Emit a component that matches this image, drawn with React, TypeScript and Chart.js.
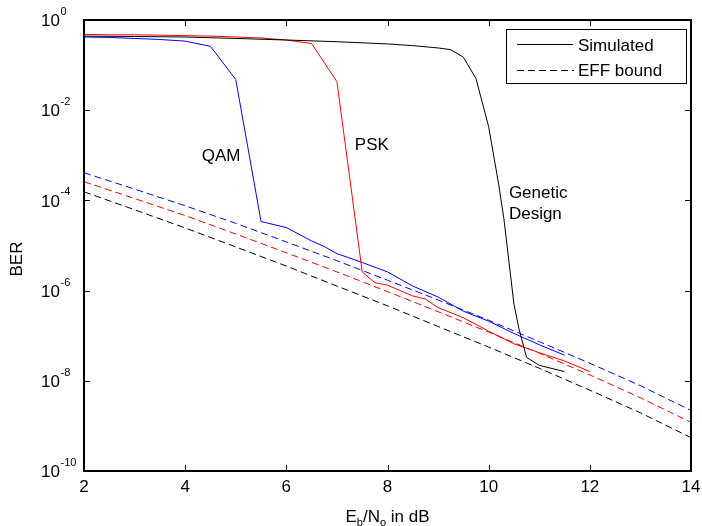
import React, { useEffect, useRef } from "react";
import { Chart, registerables } from "chart.js";

Chart.register(...registerables);

// Simulated curves (Eb/No in dB, BER)
const qamX = [2, 2.5, 3, 3.5, 4, 4.5, 5, 5.5, 6, 6.5, 6.75, 7, 7.5, 8, 8.5, 9, 9.5, 10, 10.5, 11, 11.5];
const qamBER = [4.2e-1, 4.1e-1, 3.9e-1, 3.7e-1, 3.4e-1, 2.6e-1, 4.8e-2, 3.4e-5, 2.5e-5, 1.26e-5, 9.5e-6, 6.6e-6, 4.2e-6, 2.6e-6, 1.26e-6, 7.2e-7, 3.5e-7, 2.1e-7, 1.12e-7, 6.3e-8, 3.7e-8];

const pskX = [2, 2.5, 3, 3.5, 4, 4.5, 5, 5.5, 6, 6.5, 7, 7.5, 7.75, 8, 8.5, 8.75, 9, 9.5, 10, 10.5, 11, 11.5, 12];
const pskBER = [4.8e-1, 4.7e-1, 4.7e-1, 4.6e-1, 4.5e-1, 4.4e-1, 4.2e-1, 4.0e-1, 3.6e-1, 3.0e-1, 4.3e-2, 2.6e-6, 1.5e-6, 1.32e-6, 7.6e-7, 6.5e-7, 4.2e-7, 2.5e-7, 1.26e-7, 6.6e-8, 4.2e-8, 2.75e-8, 1.6e-8];

const geneticX = [2, 3, 4, 5, 6, 7, 8, 8.5, 9, 9.25, 9.5, 9.75, 10, 10.2, 10.3, 10.5, 10.6, 10.75, 11, 11.5];
const geneticBER = [4.4e-1, 4.3e-1, 4.2e-1, 3.9e-1, 3.6e-1, 3.3e-1, 2.95e-1, 2.7e-1, 2.4e-1, 2.2e-1, 1.5e-1, 5.0e-2, 4.3e-3, 2.2e-4, 4.0e-5, 5.0e-7, 1.4e-7, 3.3e-8, 2.2e-8, 1.6e-8];

// EFF bounds
const effX = [2, 3, 4, 5, 6, 7, 8, 9, 10, 11, 12, 13, 14];
const effQAM = [4.1e-4, 1.78e-4, 7.6e-5, 3.1e-5, 1.2e-5, 4.6e-6, 1.7e-6, 6.2e-7, 2.2e-7, 7.4e-8, 2.45e-8, 7.8e-9, 2.2e-9];
const effPSK = [2.6e-4, 1.1e-4, 4.6e-5, 1.8e-5, 6.9e-6, 2.6e-6, 9.5e-7, 3.4e-7, 1.2e-7, 4.1e-8, 1.35e-8, 4.2e-9, 1.2e-9];
const effGenetic = [1.55e-4, 6.2e-5, 2.45e-5, 9.3e-6, 3.5e-6, 1.26e-6, 4.6e-7, 1.6e-7, 5.6e-8, 1.9e-8, 6.2e-9, 1.95e-9, 5.5e-10];

const xTicks = [2, 4, 6, 8, 10, 12, 14];
const yTickExponents = [0, -2, -4, -6, -8, -10];
const legendLabels = ["Simulated", "EFF bound"];
const yTitle = "BER";

const FONT = '"Liberation Sans", Arial, Helvetica, sans-serif';

function pts(xs: number[], ys: number[]) {
  return xs.map((x, i) => ({ x, y: ys[i] }));
}

const overlay = {
  id: "matlabOverlay",
  afterDraw(chart: any) {
    const ctx = chart.ctx as CanvasRenderingContext2D;
    const { left, right, top, bottom } = chart.chartArea;
    const xs = chart.scales.x;
    const ys = chart.scales.y;
    ctx.save();
    ctx.fillStyle = "#000";
    ctx.strokeStyle = "#000";

    // ticks
    ctx.lineWidth = 1;
    ctx.beginPath();
    xTicks.forEach((v) => {
      const px = Math.round(xs.getPixelForValue(v)) + 0.5;
      ctx.moveTo(px, bottom);
      ctx.lineTo(px, bottom - 6);
      ctx.moveTo(px, top);
      ctx.lineTo(px, top + 6);
    });
    yTickExponents.forEach((e) => {
      const py = Math.round(ys.getPixelForValue(Math.pow(10, e))) + 0.5;
      ctx.moveTo(left, py);
      ctx.lineTo(left + 6, py);
      ctx.moveTo(right, py);
      ctx.lineTo(right - 6, py);
    });
    ctx.stroke();

    // box
    ctx.lineWidth = 2;
    ctx.strokeRect(left, top, right - left, bottom - top);

    // x tick labels
    ctx.font = `17px ${FONT}`;
    ctx.textAlign = "center";
    ctx.textBaseline = "middle";
    xTicks.forEach((v) => {
      ctx.fillText(String(v), xs.getPixelForValue(v), bottom + 16);
    });

    // y tick labels 10^e
    yTickExponents.forEach((e) => {
      const py = ys.getPixelForValue(Math.pow(10, e));
      ctx.font = `17px ${FONT}`;
      ctx.textAlign = "right";
      ctx.textBaseline = "middle";
      ctx.fillText("10", left - 24, py + 1.5);
      ctx.font = `11px ${FONT}`;
      ctx.textAlign = "left";
      ctx.fillText(String(e), left - 23.5, py - 8);
    });

    // y title
    ctx.save();
    ctx.translate(17, 259);
    ctx.rotate(-Math.PI / 2);
    ctx.font = `17px ${FONT}`;
    ctx.textAlign = "center";
    ctx.textBaseline = "middle";
    ctx.fillText(yTitle, 0, 0);
    ctx.restore();

    // x title: E_b/N_o in dB
    const parts: [string, boolean][] = [["E", false], ["b", true], ["/N", false], ["o", true], [" in dB", false]];
    ctx.textAlign = "left";
    ctx.textBaseline = "alphabetic";
    let total = 0;
    parts.forEach(([t, sub]) => {
      ctx.font = sub ? `11px ${FONT}` : `17px ${FONT}`;
      total += ctx.measureText(t).width;
    });
    let cx = (left + right) / 2 - total / 2;
    const base = 522;
    parts.forEach(([t, sub]) => {
      ctx.font = sub ? `11px ${FONT}` : `17px ${FONT}`;
      ctx.fillText(t, cx, sub ? base + 4 : base);
      cx += ctx.measureText(t).width;
    });

    // curve annotations
    ctx.font = `17px ${FONT}`;
    ctx.textBaseline = "middle";
    ctx.textAlign = "center";
    ctx.fillText("QAM", xs.getPixelForValue(4.71), ys.getPixelForValue(9.3e-4));
    ctx.fillText("PSK", xs.getPixelForValue(7.69), ys.getPixelForValue(1.7e-3));
    ctx.textAlign = "left";
    ctx.fillText("Genetic", xs.getPixelForValue(10.4), ys.getPixelForValue(1.45e-4));
    ctx.fillText("Design", xs.getPixelForValue(10.4), ys.getPixelForValue(5.0e-5));

    // legend
    ctx.fillStyle = "#fff";
    ctx.fillRect(507, 30, 180, 54);
    ctx.lineWidth = 1;
    ctx.strokeRect(506.5, 29.5, 180, 54);
    ctx.beginPath();
    ctx.moveTo(517, 44.5);
    ctx.lineTo(573, 44.5);
    ctx.stroke();
    ctx.setLineDash([7, 4]);
    ctx.beginPath();
    ctx.moveTo(517, 70.5);
    ctx.lineTo(574, 70.5);
    ctx.stroke();
    ctx.setLineDash([]);
    ctx.fillStyle = "#000";
    ctx.font = `17px ${FONT}`;
    ctx.textAlign = "left";
    ctx.textBaseline = "middle";
    ctx.fillText(legendLabels[0], 578, 46);
    ctx.fillText(legendLabels[1], 578, 71);

    ctx.restore();
  },
};

export default function App() {
  const ref = useRef<HTMLCanvasElement | null>(null);
  useEffect(() => {
    if (!ref.current) return;
    const solid = (data: any, color: string) => ({
      data,
      borderColor: color,
      backgroundColor: color,
      borderWidth: 1,
      pointRadius: 0,
      tension: 0,
      fill: false,
    });
    const dashed = (data: any, color: string) => ({
      ...solid(data, color),
      borderDash: [7, 4],
    });
    const chart = new Chart(ref.current, {
      type: "line",
      data: {
        datasets: [
          solid(pts(geneticX, geneticBER), "#000000"),
          solid(pts(pskX, pskBER), "#ff0000"),
          solid(pts(qamX, qamBER), "#0000ff"),
          dashed(pts(effX, effGenetic), "#000000"),
          dashed(pts(effX, effPSK), "#ff0000"),
          dashed(pts(effX, effQAM), "#0000ff"),
        ] as any,
      },
      options: {
        animation: false,
        responsive: false,
        devicePixelRatio: 1,
        layout: { padding: { left: 84, right: 11, top: 20, bottom: 55 } },
        plugins: { legend: { display: false }, tooltip: { enabled: false } },
        scales: {
          x: { type: "linear", min: 2, max: 14, display: false },
          y: { type: "logarithmic", min: 1e-10, max: 1, display: false },
        },
      } as any,
      plugins: [overlay],
    });
    return () => chart.destroy();
  }, []);
  return (
    <div style={{ position: "absolute", left: 0, top: 0, width: 702, height: 526, background: "#fff" }}>
      <canvas ref={ref} width={702} height={526} />
    </div>
  );
}
